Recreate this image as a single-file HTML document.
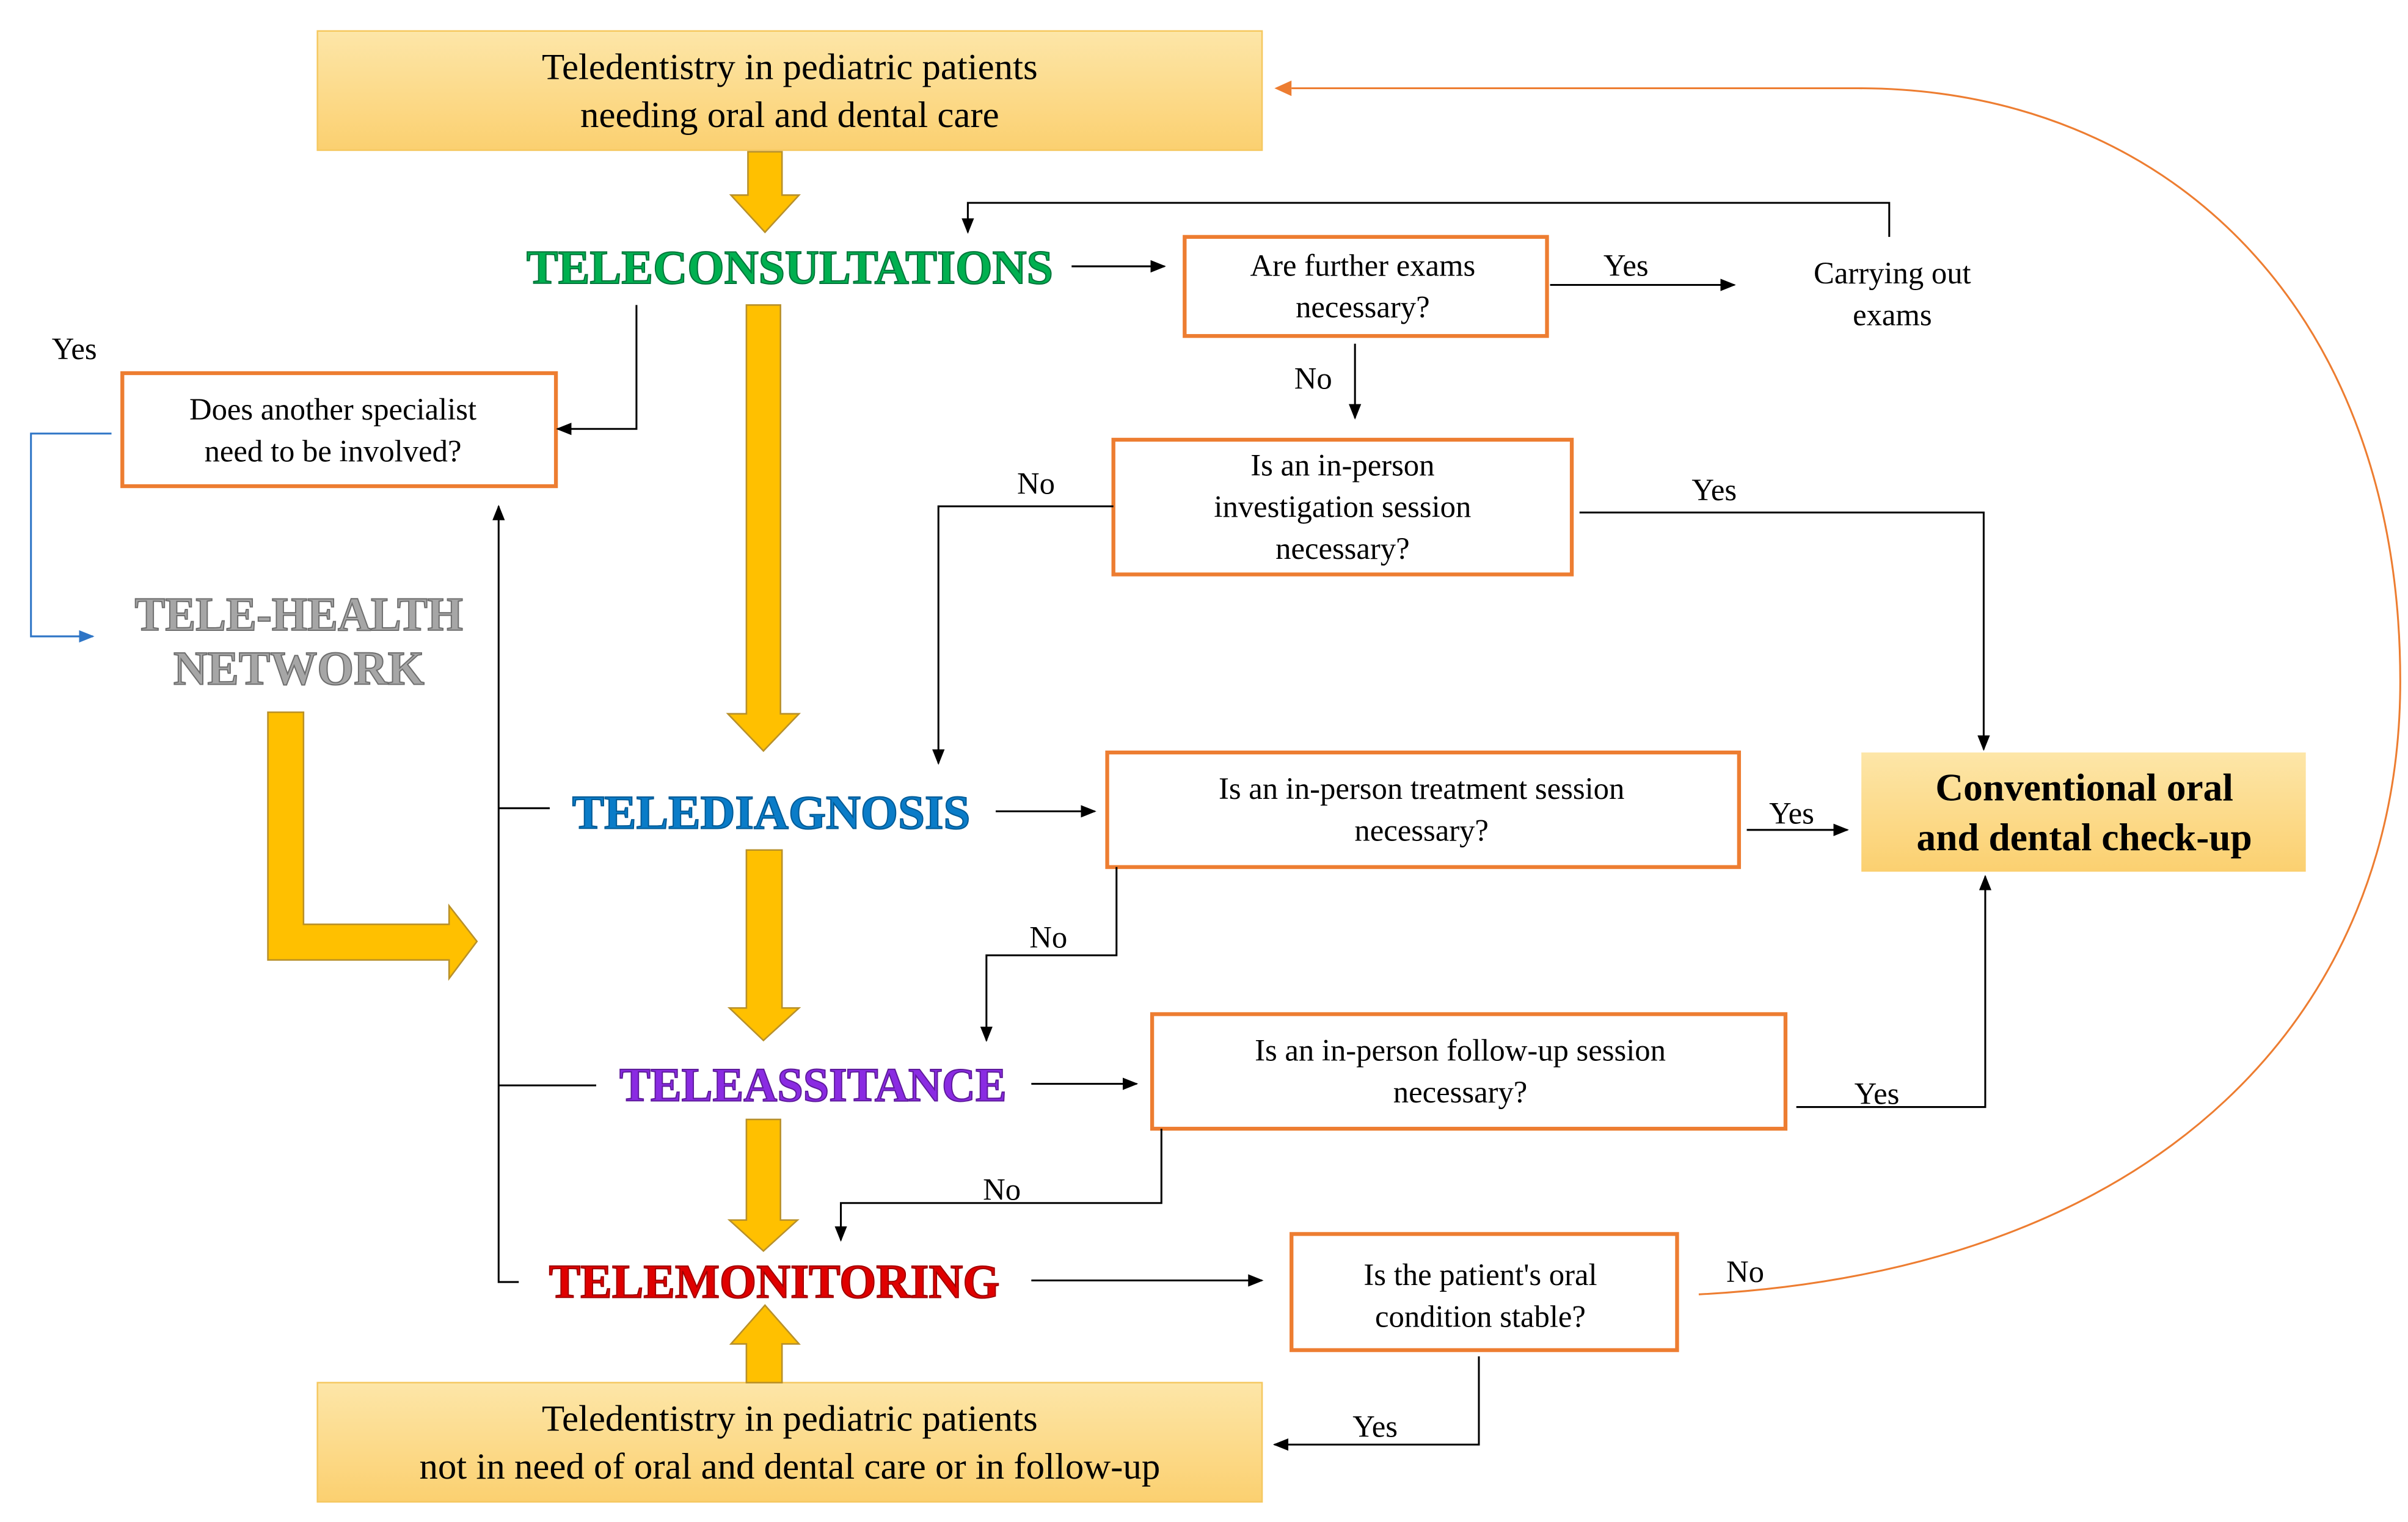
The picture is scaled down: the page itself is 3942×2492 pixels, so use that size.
<!DOCTYPE html>
<html><head><meta charset="utf-8"><style>html,body{margin:0;padding:0;background:#fff}svg{display:block}text{font-family:"Liberation Serif","DejaVu Serif",serif}</style></head>
<body>
<svg width="3942" height="2492" viewBox="0 0 1555 983" xmlns="http://www.w3.org/2000/svg" font-family="Liberation Serif, serif">
<defs>
<linearGradient id="g" x1="0" y1="0" x2="0" y2="1"><stop offset="0" stop-color="#fde6a8"/><stop offset="1" stop-color="#fbd070"/></linearGradient>
<marker id="a" markerWidth="10" markerHeight="10" refX="9" refY="5" orient="auto" markerUnits="userSpaceOnUse"><path d="M0,1 L10,5 L0,9z" fill="#000"/></marker>
<marker id="ab" markerWidth="10" markerHeight="10" refX="9" refY="5" orient="auto" markerUnits="userSpaceOnUse"><path d="M0,1 L10,5 L0,9z" fill="#2e75c6"/></marker>
</defs>
<rect x="205" y="20" width="610" height="77" fill="url(#g)" stroke="#f5c860" stroke-width="1"/>
<text x="510" y="51" font-size="24" text-anchor="middle">Teledentistry in pediatric patients</text>
<text x="510" y="82" font-size="24" text-anchor="middle">needing oral and dental care</text>
<rect x="205" y="893" width="610" height="77" fill="url(#g)" stroke="#f5c860" stroke-width="1"/>
<text x="510" y="924" font-size="24" text-anchor="middle">Teledentistry in pediatric patients</text>
<text x="510" y="955" font-size="24" text-anchor="middle">not in need of oral and dental care or in follow-up</text>
<g fill="#ffc000" stroke="#b8902a" stroke-width="1">
<path d="M483,98 H505 V126 H516 L494,150 L472,126 H483z"/>
<path d="M482,197 H504 V461 H516 L493,485 L470,461 H482z"/>
<path d="M482,549 H505 V651 H516 L493,672 L471,651 H482z"/>
<path d="M482,723 H504 V788 H515 L493,808 L471,788 H482z"/>
<path d="M482,893 H505 V868 H516 L494,843 L472,868 H482z"/>
<path d="M173,460 H196 V597 H290 V585 L308,608 L290,632 V620 H173z"/>
</g>
<g font-weight="bold" text-anchor="middle" stroke-width="0.8">
<text x="510" y="183" font-size="31" fill="#00b050" stroke="#00753a" textLength="340" lengthAdjust="spacingAndGlyphs">TELECONSULTATIONS</text>
<text x="498" y="535" font-size="31" fill="#0a7cc8" stroke="#005a96" textLength="257" lengthAdjust="spacingAndGlyphs">TELEDIAGNOSIS</text>
<text x="525" y="711" font-size="31" fill="#8a2be2" stroke="#5e1a9c" textLength="250" lengthAdjust="spacingAndGlyphs">TELEASSITANCE</text>
<text x="500" y="838" font-size="31" fill="#e00000" stroke="#a00000" textLength="291" lengthAdjust="spacingAndGlyphs">TELEMONITORING</text>
<text x="193" y="407" font-size="31" fill="#a6a6a6" stroke="#6e6e6e" textLength="212" lengthAdjust="spacingAndGlyphs">TELE-HEALTH</text>
<text x="193" y="442" font-size="31" fill="#a6a6a6" stroke="#6e6e6e" textLength="162" lengthAdjust="spacingAndGlyphs">NETWORK</text>
</g>
<g fill="#fff" stroke="#ed7d31" stroke-width="2.5">
<rect x="79" y="241" width="280" height="73"/>
<rect x="765" y="153" width="234" height="64"/>
<rect x="719" y="284" width="296" height="87"/>
<rect x="715" y="486" width="408" height="74"/>
<rect x="744" y="655" width="409" height="74"/>
<rect x="834" y="797" width="249" height="75"/>
</g>
<rect x="1202" y="486" width="287" height="77" fill="url(#g)"/>
<g font-size="20" text-anchor="middle" fill="#000">
<text x="215" y="271">Does another specialist</text><text x="215" y="298">need to be involved?</text>
<text x="880" y="178">Are further exams</text><text x="880" y="205">necessary?</text>
<text x="867" y="307">Is an in-person</text><text x="867" y="334">investigation session</text><text x="867" y="361">necessary?</text>
<text x="918" y="516">Is an in-person treatment session</text><text x="918" y="543">necessary?</text>
<text x="943" y="685">Is an in-person follow-up session</text><text x="943" y="712">necessary?</text>
<text x="956" y="830">Is the patient's oral</text><text x="956" y="857">condition stable?</text>
<text x="1222" y="183">Carrying out</text><text x="1222" y="210">exams</text>
<text x="1346" y="517" font-size="25" font-weight="bold">Conventional oral</text><text x="1346" y="549" font-size="25" font-weight="bold">and dental check-up</text>
<text x="48" y="232">Yes</text>
<text x="1050" y="178">Yes</text>
<text x="848" y="251">No</text>
<text x="669" y="319">No</text>
<text x="1107" y="323">Yes</text>
<text x="1157" y="532">Yes</text>
<text x="677" y="612">No</text>
<text x="1212" y="713">Yes</text>
<text x="647" y="775">No</text>
<text x="1127" y="828">No</text>
<text x="888" y="928">Yes</text>
</g>
<g fill="none" stroke="#000" stroke-width="1.2">
<path d="M692,172 H752" marker-end="url(#a)"/>
<path d="M1001,184 H1120" marker-end="url(#a)"/>
<path d="M1220,153 V131 H625 V150" marker-end="url(#a)"/>
<path d="M875,222 V270" marker-end="url(#a)"/>
<path d="M719,327 H606 V493" marker-end="url(#a)"/>
<path d="M1020,331 H1281 V484" marker-end="url(#a)"/>
<path d="M643,524 H707" marker-end="url(#a)"/>
<path d="M1128,536 H1193" marker-end="url(#a)"/>
<path d="M721,560 V617 H637 V672" marker-end="url(#a)"/>
<path d="M666,700 H734" marker-end="url(#a)"/>
<path d="M1160,715 H1282 V566" marker-end="url(#a)"/>
<path d="M750,729 V777 H543 V801" marker-end="url(#a)"/>
<path d="M666,827 H815" marker-end="url(#a)"/>
<path d="M955,876 V933 H823" marker-end="url(#a)"/>
<path d="M335,828 H322 V327" marker-end="url(#a)"/>
<path d="M322,522 H355"/>
<path d="M322,701 H385"/>
<path d="M411,197 V277 H360" marker-end="url(#a)"/>
</g>
<path d="M72,280 H20 V411 H60" fill="none" stroke="#2e75c6" stroke-width="1.2" marker-end="url(#ab)"/>
<path d="M1097,836 C1400,820 1550,650 1550,440 C1550,200 1400,57 1200,57 L834,57" fill="none" stroke="#ed7d31" stroke-width="1.2"/>
<path d="M823,57 L834,52 L834,62z" fill="#ed7d31"/>
</svg>
</body></html>
